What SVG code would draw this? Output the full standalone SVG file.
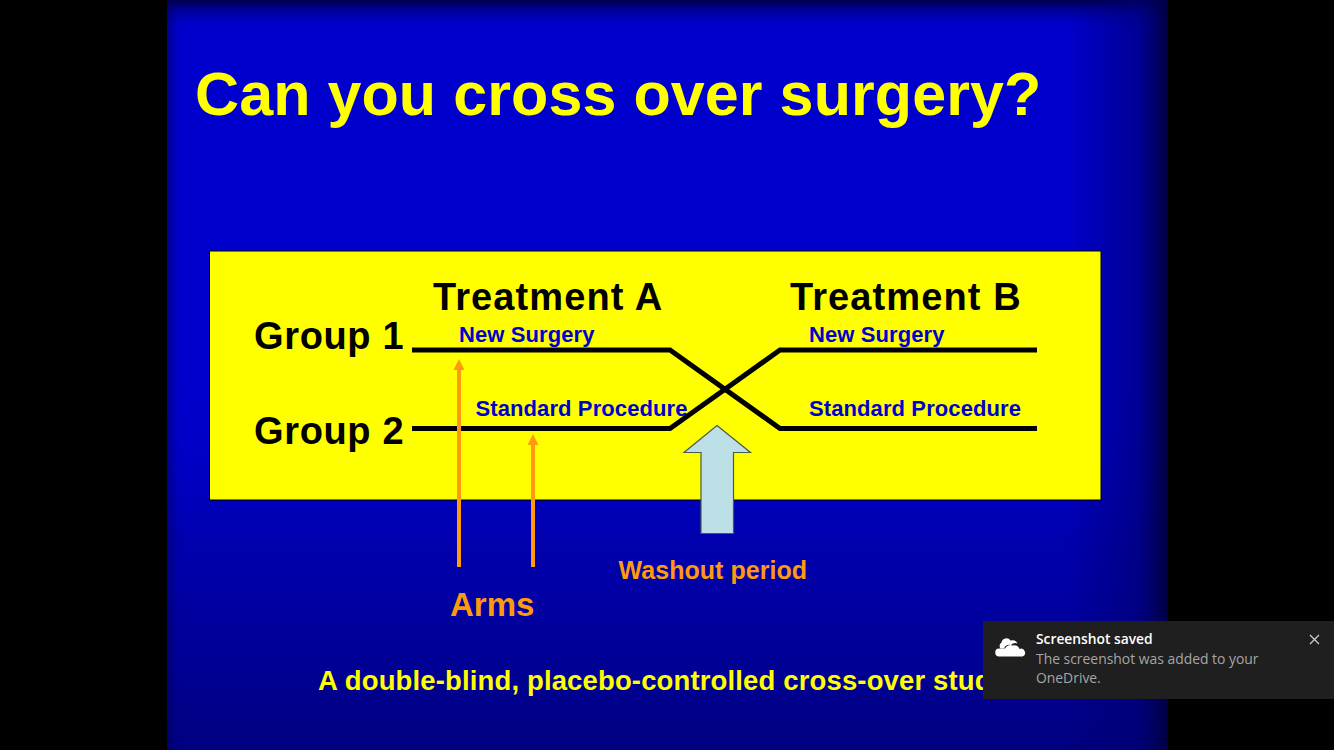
<svg xmlns="http://www.w3.org/2000/svg" width="1334" height="750" viewBox="0 0 1334 750">
<style>
text{font-family:"Liberation Sans",Arial,sans-serif;font-weight:700}
.h{font-size:38px;fill:#000;letter-spacing:1.1px}
.g{font-size:38px;fill:#000;letter-spacing:.65px}
.s{font-size:22px;fill:#0000cc;letter-spacing:.1px}
.o{fill:#ff9a0f}
.l{fill:none;stroke:#000;stroke-width:5;stroke-linejoin:miter}
.a{fill:none;stroke:#ff9a0f;stroke-width:4}
.ah{fill:#ff9a0f}
.t{font-size:13.900px;fill:#a6a6a6;font-family:"Open Sans","Noto Sans",sans-serif;font-weight:400}
</style>
<defs>
<linearGradient id="v" x1="0" y1="0" x2="0" y2="1">
<stop offset="0" stop-color="#000030" stop-opacity=".85"/>
<stop offset=".012" stop-color="#000060" stop-opacity=".55"/>
<stop offset=".04" stop-color="#0000cc" stop-opacity="0"/>
<stop offset=".5" stop-color="#0000cc" stop-opacity="0"/>
<stop offset=".72" stop-color="#000090" stop-opacity=".5"/>
<stop offset="1" stop-color="#000080" stop-opacity="1"/>
</linearGradient>
<linearGradient id="h" x1="0" y1="0" x2="1" y2="0">
<stop offset="0" stop-color="#000050" stop-opacity=".5"/>
<stop offset=".012" stop-color="#000070" stop-opacity="0"/>
<stop offset=".9" stop-color="#000070" stop-opacity="0"/>
<stop offset=".97" stop-color="#000070" stop-opacity=".6"/>
<stop offset="1" stop-color="#000040" stop-opacity="1"/>
</linearGradient>
</defs>
<rect width="1334" height="750" fill="#000"/>
<g id="slide-bg">
<rect x="167" y="0" width="1001" height="750" fill="#0000cc"/>
<rect x="167" y="0" width="1001" height="750" fill="url(#v)"/>
<rect x="167" y="0" width="1001" height="750" fill="url(#h)"/>
</g>
<g id="title"><text x="195" y="115" font-size="61" fill="#ffff00" letter-spacing=".08">Can you cross over surgery?</text></g>
<g id="panel"><rect x="209.500" y="251" width="891.500" height="249" fill="#ffff00" stroke="#000" stroke-width="1"/></g>
<g id="header-a"><text class="h" x="433" y="310">Treatment A</text></g>
<g id="header-b"><text class="h" x="790" y="310">Treatment B</text></g>
<g id="group-1"><text class="g" x="254" y="349">Group 1</text></g>
<g id="group-2"><text class="g" x="254" y="444">Group 2</text></g>
<g id="label-a1"><text class="s" x="459" y="342">New Surgery</text></g>
<g id="label-b1"><text class="s" x="809" y="342">New Surgery</text></g>
<g id="label-a2"><text class="s" x="475.500" y="416">Standard Procedure</text></g>
<g id="label-b2"><text class="s" x="809" y="416">Standard Procedure</text></g>
<g id="connectors">
<path class="l" d="M412 350H670L780 428.500H1037"/>
<path class="l" d="M412 428.500H670L780 350H1037"/>
<path class="a" d="M459 567V370"/><path class="ah" d="M459 359L464.500 370H453.500Z"/>
<path class="a" d="M533 567V444"/><path class="ah" d="M533 434L538.500 445H527.500Z"/>
</g>
<g id="washout-arrow"><path d="M717 425.500L750.500 452.500H733.500V533.500H701V452.500H684Z" fill="#bde0e6" stroke="#4a5a50" stroke-width="1.200"/></g>
<g id="washout-label"><text x="618.500" y="579" font-size="25" class="o" letter-spacing=".05">Washout period</text></g>
<g id="arms-label"><text x="450" y="616" font-size="33" class="o">Arms</text></g>
<g id="caption"><text x="318" y="690" font-size="27.500" fill="#ffff00" letter-spacing=".14">A double-blind, placebo-controlled cross-over study</text></g>
<g id="toast">
<rect x="983" y="621" width="351" height="78" fill="#1f1f1f"/>
<g id="cloud-icon" fill="#fff" transform="translate(-1.500 0)">
<path d="M1003 642.500a5 5 0 0 1 9-2a5.500 5.500 0 0 1 7 3a6 6 0 0 0-6.500 1.500a6 6 0 0 0-7 3.500h-3.500a4 4 0 0 1 1-6z"/>
<path d="M1001 656.500a4 4 0 0 1-.5-8h6a6 6 0 0 1 7.500-3a5.500 5.500 0 0 1 7 3.500a4 4 0 0 1 3 7.500z"/>
</g>
<path d="M1310 635l9 9m0-9l-9 9" stroke="#ccc" stroke-width="1.300" fill="none"/>
<text x="1036" y="644" font-size="13.800" fill="#fff" style="font-family:'Open Sans','Noto Sans',sans-serif;font-weight:600">Screenshot saved</text>
<text class="t" x="1036" y="664">The screenshot was added to your</text>
<text class="t" x="1036" y="683">OneDrive.</text>
</g>
</svg>
